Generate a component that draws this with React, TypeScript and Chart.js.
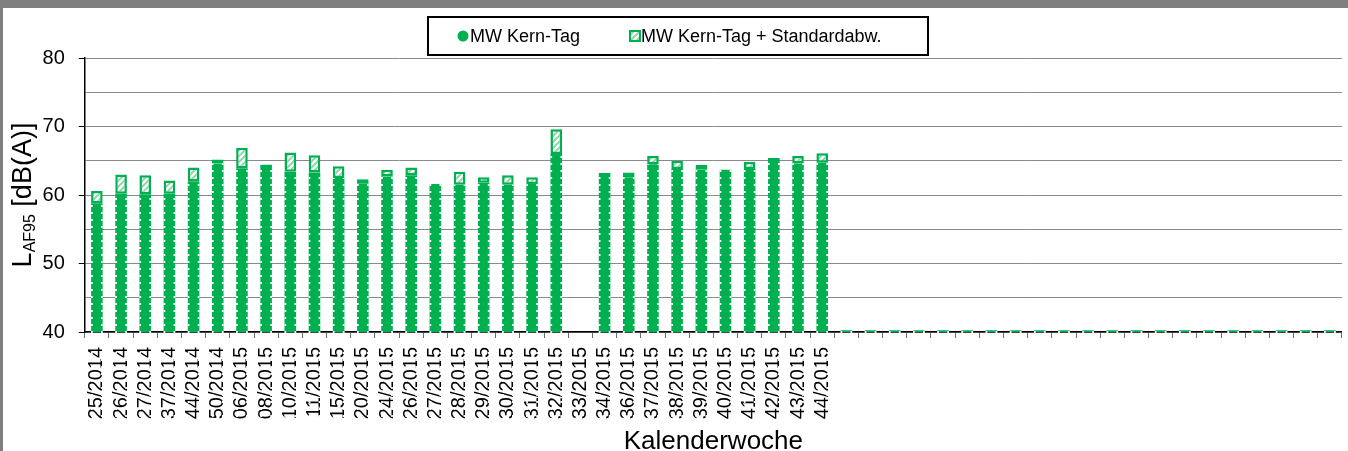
import React, { useEffect, useRef } from 'react';
import { Chart, registerables } from 'chart.js';

Chart.register(...registerables);

// ---- data ----
const weekLabels = [
  '25/2014', '26/2014', '27/2014', '37/2014', '44/2014', '50/2014',
  '06/2015', '08/2015', '10/2015', '11/2015', '15/2015', '20/2015',
  '24/2015', '26/2015', '27/2015', '28/2015', '29/2015', '30/2015',
  '31/2015', '32/2015', '33/2015', '34/2015', '36/2015', '37/2015',
  '38/2015', '39/2015', '40/2015', '41/2015', '42/2015', '43/2015', '44/2015',
];
const emptyLabels = ['', '', '', '', '', '', '', '', '', '', '', '', '', '', '', '', '', '', '', '', ''];

const meanValues = [
  58.8, 60.2, 60.1, 60.2, 62.0, 64.6,
  63.9, 64.4, 63.4, 63.3, 62.5, 61.7,
  62.7, 62.9, 61.6, 61.5, 61.8, 61.5,
  61.6, 66.0, null, 63.2, 62.6, 64.5,
  63.8, 63.7, 63.7, 63.8, 65.4, 64.6, 64.7,
];
const stdValues = [
  1.8, 2.8, 2.8, 1.9, 2.0, 0.6,
  3.0, null, 2.8, 2.5, 1.7, 0.6,
  1.0, 1.1, null, 1.9, 0.8, 1.4,
  1.0, 3.6, null, null, 0.7, 1.2,
  1.2, 0.7, null, 1.0, null, 1.1, 1.4,
];
const emptyMeanValues = [
  40.25, 40.25, 40.25, 40.25, 40.25, 40.25, 40.25, 40.25, 40.25, 40.25, 40.25,
  40.25, 40.25, 40.25, 40.25, 40.25, 40.25, 40.25, 40.25, 40.25, 40.25,
];
const emptyStdValues = [
  null, null, null, null, null, null, null, null, null, null, null,
  null, null, null, null, null, null, null, null, null, null,
];

const yMin = 40;
const yMax = 80;
const yStep = 5;

const seriesNames = ['MW Kern-Tag', 'MW Kern-Tag + Standardabw.'];
const xTitle = 'Kalenderwoche';
const yTitleMain = 'L';
const yTitleSub = 'AF95';
const yTitleUnit = ' [dB(A)]';

const GREEN = '#00B050';
const FONT = '"Liberation Sans", Arial, sans-serif';

function makeHatch(): CanvasPattern | string {
  const c = document.createElement('canvas');
  c.width = 6;
  c.height = 6;
  const g = c.getContext('2d');
  if (!g) return '#ffffff';
  g.fillStyle = '#ffffff';
  g.fillRect(0, 0, 6, 6);
  g.strokeStyle = '#7fd6a0';
  g.lineWidth = 1.7;
  g.beginPath();
  g.moveTo(0, 6); g.lineTo(6, 0);
  g.moveTo(-3, 3); g.lineTo(3, -3);
  g.moveTo(3, 9); g.lineTo(9, 3);
  g.stroke();
  return g.createPattern(c, 'repeat') || '#ffffff';
}

export default function App() {
  const ref = useRef<HTMLCanvasElement | null>(null);

  useEffect(() => {
    const canvas = ref.current;
    if (!canvas) return;
    const hatch = makeHatch();

    const labels = [...weekLabels, ...emptyLabels];
    const means = [...meanValues, ...emptyMeanValues];
    const stds = [...stdValues, ...emptyStdValues];

    const decorations = {
      id: 'decorations',
      afterDatasetsDraw(chart: any) {
        const ctx = chart.ctx;
        const meta = chart.getDatasetMeta(0);
        ctx.save();
        ctx.strokeStyle = 'rgba(255,255,255,0.95)';
        ctx.lineWidth = 1.8;
        ctx.setLineDash([2, 5]);
        meta.data.forEach((el: any) => {
          const p = el.getProps(['x', 'y', 'base', 'width'], true);
          if (p.y == null || isNaN(p.y)) return;
          if (Math.abs(p.base - p.y) < 5) return;
          const l = p.x - p.width / 2 + 0.8;
          const r = p.x + p.width / 2 - 0.8;
          ctx.beginPath();
          ctx.moveTo(l, p.base);
          ctx.lineTo(l, p.y);
          ctx.moveTo(r, p.base);
          ctx.lineTo(r, p.y);
          ctx.stroke();
        });
        ctx.restore();
      },
      afterDraw(chart: any) {
        const ctx = chart.ctx;
        const area = chart.chartArea;
        ctx.save();
        // legend
        const lx = 425, ly = 9, lw = 500, lh = 38;
        ctx.fillStyle = '#ffffff';
        ctx.fillRect(lx, ly, lw, lh);
        ctx.strokeStyle = '#000000';
        ctx.lineWidth = 2;
        ctx.strokeRect(lx, ly, lw, lh);
        const cy = ly + lh / 2;
        ctx.fillStyle = GREEN;
        ctx.beginPath();
        ctx.arc(460, cy, 5.5, 0, Math.PI * 2);
        ctx.fill();
        ctx.font = `18px ${FONT}`;
        ctx.fillStyle = '#000000';
        ctx.textBaseline = 'middle';
        ctx.textAlign = 'left';
        ctx.fillText(seriesNames[0], 467, cy + 1);
        ctx.fillStyle = hatch as any;
        ctx.fillRect(627, cy - 5, 10, 10);
        ctx.strokeStyle = GREEN;
        ctx.lineWidth = 2;
        ctx.strokeRect(627, cy - 5, 10, 10);
        ctx.fillStyle = '#000000';
        ctx.fillText(seriesNames[1], 638, cy + 1);

        // x title
        ctx.font = `26px ${FONT}`;
        ctx.textAlign = 'center';
        ctx.textBaseline = 'alphabetic';
        ctx.fillText(xTitle, (area.left + area.right) / 2, 441);

        // y title (rotated)
        const mainFont = `27px ${FONT}`;
        const subFont = `16px ${FONT}`;
        ctx.font = mainFont;
        const wL = ctx.measureText(yTitleMain).width;
        const wU = ctx.measureText(yTitleUnit).width;
        ctx.font = subFont;
        const wS = ctx.measureText(yTitleSub).width;
        const total = wL + wS + wU;
        ctx.translate(28, (area.top + area.bottom) / 2);
        ctx.rotate(-Math.PI / 2);
        ctx.textAlign = 'left';
        let x0 = -total / 2;
        ctx.font = mainFont;
        ctx.fillText(yTitleMain, x0, 0);
        x0 += wL;
        ctx.font = subFont;
        ctx.fillText(yTitleSub, x0, 4);
        x0 += wS;
        ctx.font = mainFont;
        ctx.fillText(yTitleUnit, x0, 0);
        ctx.restore();
      },
    };

    const chart = new Chart(canvas, {
      type: 'bar',
      data: {
        labels,
        datasets: [
          {
            label: seriesNames[0],
            data: means,
            backgroundColor: GREEN,
            borderWidth: 0,
            barPercentage: 0.48,
            categoryPercentage: 1,
          },
          {
            label: seriesNames[1],
            data: stds,
            backgroundColor: hatch as any,
            borderColor: GREEN,
            borderWidth: 2.5,
            borderSkipped: false,
            barPercentage: 0.48,
            categoryPercentage: 1,
          },
        ],
      },
      options: {
        responsive: false,
        animation: false,
        devicePixelRatio: 1,
        layout: { padding: { left: 0, top: 50, right: 9.4, bottom: 0 } },
        plugins: {
          legend: { display: false },
          tooltip: { enabled: false },
          title: { display: false },
        },
        scales: {
          x: {
            stacked: true,
            afterFit: (s: any) => { s.height = 119; },
            grid: {
              display: true,
              offset: true,
              drawOnChartArea: false,
              drawTicks: true,
              tickLength: 6,
              tickColor: '#6e6e6e',
              tickWidth: 1,
            },
            border: { display: true, color: '#000000', width: 1.5 },
            ticks: {
              autoSkip: false,
              minRotation: 90,
              maxRotation: 90,
              padding: 9,
              color: '#000000',
              font: { family: FONT, size: 20 },
            },
          },
          y: {
            stacked: true,
            min: yMin,
            max: yMax,
            afterFit: (s: any) => { s.width = 81.8; },
            grid: {
              drawTicks: true,
              tickLength: 6,
              color: '#8a8a8a',
              lineWidth: 1,
              tickColor: (c: any) => (c.tick && c.tick.value % 10 === 0 ? '#000000' : 'rgba(0,0,0,0)'),
            },
            border: { display: true, color: '#000000', width: 1.5 },
            ticks: {
              stepSize: yStep,
              padding: 14,
              color: '#000000',
              font: { family: FONT, size: 20 },
              callback: (v: any) => (Number(v) % 10 === 0 ? String(v) : ''),
            },
          },
        },
      },
      plugins: [decorations],
    });

    return () => chart.destroy();
  }, []);

  return (
    <div
      style={{
        position: 'fixed',
        left: 0,
        top: 0,
        width: 1348,
        height: 451,
        overflow: 'hidden',
        background: '#7f7f7f',
      }}
    >
      <canvas
        ref={ref}
        width={1360}
        height={443}
        style={{ position: 'absolute', left: 3, top: 8, background: '#ffffff', width: 1360, height: 443 }}
      />
    </div>
  );
}
